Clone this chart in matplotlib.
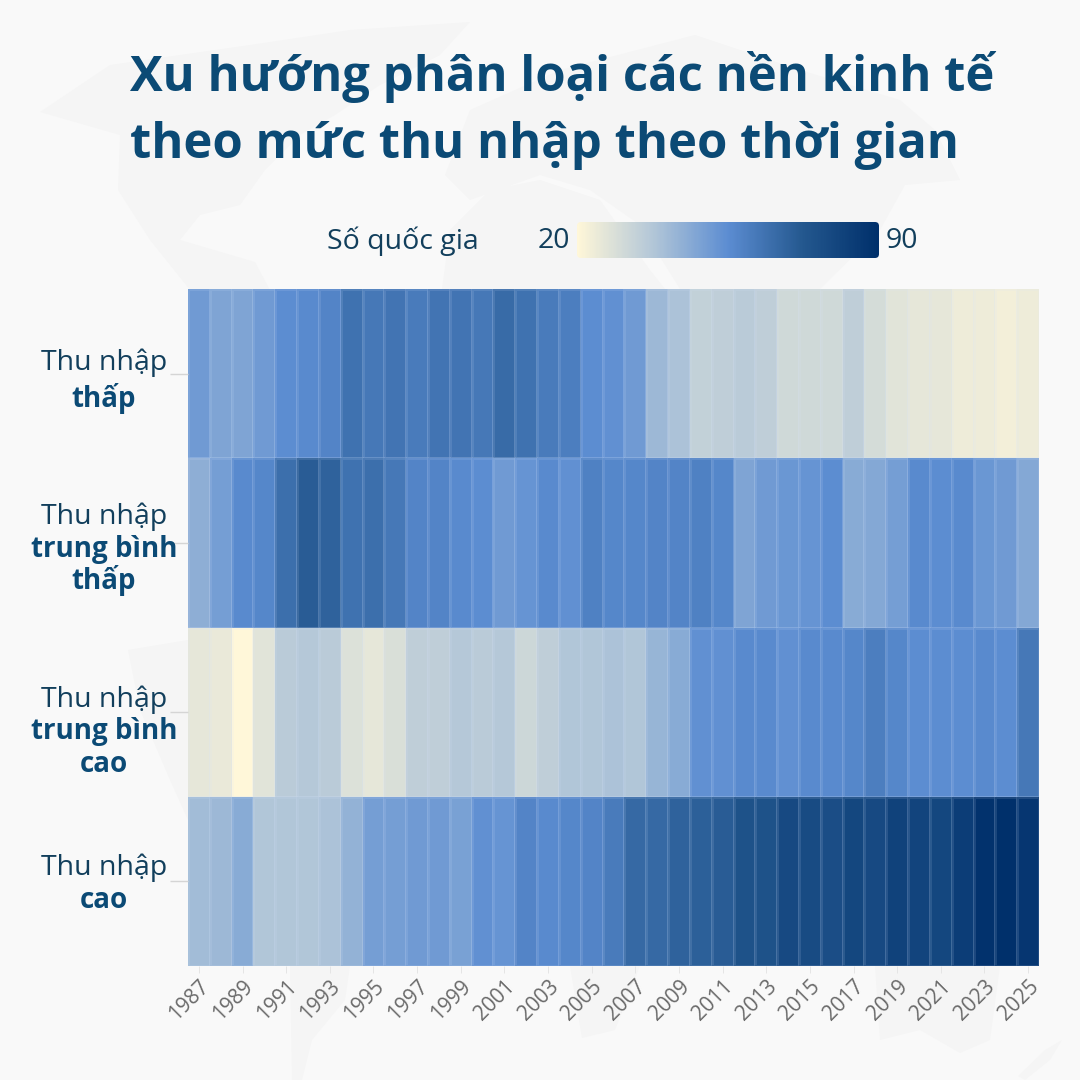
import numpy as np
import matplotlib
matplotlib.use("Agg")
import matplotlib.pyplot as plt
from matplotlib.colors import LinearSegmentedColormap
from matplotlib.patches import FancyBboxPatch, Polygon

years = list(range(1987, 2026))
tick_years = years[::2]
low = [51,48,48,51,55,56,58,64,62,63,61,63,63,62,66,64,61,60,55,54,51,42,39,34,35,36,35,31,31,31,35,30,27,26,26,24,24,23,24]
lower_middle = [45,50,56,57,65,71,69,64,65,62,58,58,56,55,51,53,56,54,59,57,57,58,58,59,57,48,51,52,53,55,46,47,50,56,55,56,52,51,47]
upper_middle = [26,25,20,27,36,37,36,28,26,29,35,35,37,36,37,32,35,38,38,39,38,43,46,54,54,56,56,54,56,56,57,60,57,55,55,55,56,55,62]
high = [41,42,46,38,38,38,39,44,50,50,51,51,49,54,53,58,56,57,58,61,67,67,69,70,71,75,75,79,78,77,80,79,82,81,80,84,89,90,87]
vmin, vmax = 20, 90
title_lines = ["Xu hướng phân loại các nền kinh tế", "theo mức thu nhập theo thời gian"]
row_labels = [("Thu nhập", "thấp"), ("Thu nhập", "trung bình", "thấp"),
              ("Thu nhập", "trung bình", "cao"), ("Thu nhập", "cao")]
matrix = np.array([low, lower_middle, upper_middle, high])

plt.rcParams['font.family'] = ['Open Sans', 'Noto Sans', 'DejaVu Sans']
BG = '#F9F9F9'; LAND = '#F5F5F5'; NAVY = '#0B4A75'; DARK = '#123F5C'
W = 1080.0
fig = plt.figure(figsize=(10.8, 10.8), dpi=100, facecolor=BG)
def rect(x0, y0, x1, y1):
    return [x0/W, 1-y1/W, (x1-x0)/W, (y1-y0)/W]

# faint decorative world-map backdrop, in pixel coordinates
bg = fig.add_axes([0, 0, 1, 1]); bg.axis('off'); bg.set_xlim(0, W); bg.set_ylim(W, 0)
land = [
    [(40,112),(110,65),(250,45),(350,30),(470,22),(440,55),(380,85),(335,115),(300,135),(265,170),(240,205),(200,215),(180,240),(255,262),(270,290),(190,290),(150,240),(118,190),(120,135)],
    [(470,110),(560,70),(695,35),(800,70),(900,100),(935,130),(960,180),(905,185),(880,230),(820,289),(680,289),(640,225),(590,190),(540,175),(470,200),(445,175)],
    [(442,289),(450,230),(490,190),(540,180),(600,200),(650,270),(665,289)],
    [(570,966),(640,966),(615,1030),(582,1038)],
    [(290,966),(350,966),(345,1000),(312,1040),(302,1080),(292,1080)],
    [(128,650),(188,640),(188,820),(170,780),(140,710)],
    [(875,966),(1000,966),(990,1040),(960,1053),(920,1030),(880,1040)],
    [(1062,1040),(1050,1060),(1025,1080),(1018,1076),(1045,1050)],
]
for pts in land:
    bg.add_patch(Polygon(pts, closed=True, fc=LAND, ec='none'))

cmap = LinearSegmentedColormap.from_list('c', [(0, '#FFF7D9'), (0.25, '#B3C7D8'), (0.5, '#5C8DD2'), (0.75, '#24588F'), (1, '#00306B')])

ax = fig.add_axes(rect(188, 289, 1039, 966))
ax.pcolormesh(np.arange(len(years)+1), np.arange(5), matrix, cmap=cmap, vmin=vmin, vmax=vmax,
              edgecolors=(0.85, 0.90, 1.0, 0.12), linewidth=0.8)
ax.set_ylim(4, 0); ax.set_xlim(0, len(years))
for s in ax.spines.values():
    s.set_visible(False)
ax.set_xticks(np.arange(0, len(years), 2)+0.5)
ax.set_xticklabels(tick_years, rotation=45, ha='right', rotation_mode='anchor', fontsize=15, color='#6A6A6A')
ax.set_yticks(np.arange(4)+0.5); ax.set_yticklabels([])
ax.tick_params(axis='x', length=5, width=0.6, color='#E2E2E2', pad=2)
ax.tick_params(axis='y', length=13, width=1, color='#D5D5D5')

label_y = [[362, 397], [516, 548, 580], [699, 731, 763], [867, 899]]
for lines, ys in zip(row_labels, label_y):
    for i, (t, y) in enumerate(zip(lines, ys)):
        fig.text(104/W, 1-(y+1)/W, t, ha='center', va='center', fontsize=20.5 if i == 0 else 20,
                 color=DARK if i == 0 else NAVY, fontweight='normal' if i == 0 else 'bold')

fig.text(130/W, 1-77/W, title_lines[0], fontsize=35.3, fontweight='bold', color=NAVY, va='center', ha='left')
fig.text(130/W, 1-146/W, title_lines[1], fontsize=35.3, fontweight='bold', color=NAVY, va='center', ha='left')

fig.text(327/W, 1-241/W, "Số quốc gia", fontsize=20.5, color=DARK, va='center', ha='left')
fig.text(570/W, 1-241/W, str(vmin), fontsize=20.5, color=DARK, va='center', ha='right')
fig.text(886/W, 1-241/W, str(vmax), fontsize=20.5, color=DARK, va='center', ha='left')
cax = fig.add_axes(rect(577, 222, 879, 258)); cax.axis('off')
im = cax.imshow(np.linspace(0, 1, 300)[None, :], cmap=cmap, aspect='auto', extent=(0, 302, 0, 36))
clip = FancyBboxPatch((0, 0), 302, 36, boxstyle='round,pad=0,rounding_size=4', transform=cax.transData, fc='none', ec='none')
cax.add_patch(clip); im.set_clip_path(clip)

fig.savefig('out.png', dpi=100, facecolor=BG)
